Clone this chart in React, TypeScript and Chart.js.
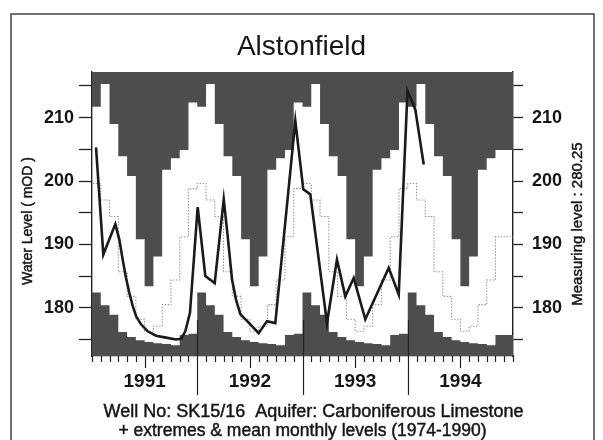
import React, { useEffect, useRef } from 'react';
import { Chart, registerables } from 'chart.js';

Chart.register(...registerables);

// ---- data ----
const TITLE = 'Alstonfield';
const Y_AXIS_TITLE = 'Water Level ( mOD )';
const Y2_AXIS_TITLE = 'Measuring level : 280.25';
const FOOTER_1 = 'Well No: SK15/16  Aquifer: Carboniferous Limestone';
const FOOTER_2 = '+ extremes & mean monthly levels (1974-1990)';

const YEAR_LABELS = ['1991', '1992', '1993', '1994'];
const N_MONTHS = 48; // Jan 1991 .. Dec 1994

// long-term (1974-1990) monthly statistics, Jan..Dec
const MONTH_MAX = [212.4, 211.7, 215.3, 209.0, 203.9, 200.8, 190.8, 183.4, 188.1, 201.8, 203.6, 204.9];
const MONTH_MEAN = [198.8, 199.6, 197.0, 194.4, 185.7, 181.8, 178.2, 176.3, 177.1, 180.5, 184.4, 191.2];
const MONTH_MIN = [175.9, 182.4, 180.4, 178.9, 176.2, 175.4, 174.9, 174.6, 174.4, 174.3, 174.1, 175.7];

// observed levels: time in months since 1 Jan 1991
const OBS_MONTH = [
  0.46, 1.29, 2.66, 3.11, 3.5, 3.88, 4.25, 4.64, 5.02, 5.59, 6.35, 7.3, 8.44, 9.58, 10.15, 10.64, 11.17,
  12.05, 12.92, 13.99, 15.02, 15.51, 15.96, 16.42, 16.91, 18.05, 19.0, 19.95, 20.9,
  23.18, 24.09, 24.89, 26.79, 27.93, 28.88, 29.84, 31.16, 33.83, 34.97,
  35.97, 36.86, 37.82,
];
const OBS_LEVEL = [
  205.3, 188.4, 193.2, 190.8, 187.6, 184.7, 182.4, 180.3, 178.7, 177.4, 176.3, 175.6, 175.3, 175.0, 175.1, 176.3, 179.2,
  195.9, 185.0, 183.9, 197.1, 190.8, 184.5, 181.3, 179.0, 177.4, 176.0, 177.9, 177.6,
  209.5, 198.7, 197.9, 177.6, 187.6, 181.8, 184.7, 178.2, 186.3, 182.1,
  214.2, 211.3, 202.6,
];

const Y_TICKS = [175, 180, 185, 190, 195, 200, 205, 210, 215];
const Y_MIN = 172.4;
const Y_MAX = 217.2;

// ---- styles ----
const FONT = "'Liberation Sans', Arial, Helvetica, sans-serif";
const INK = '#151515';
const SHADE = '#4d4d4d';

function monthlySteps(values: number[]) {
  const pts: { x: number; y: number }[] = [];
  for (let k = 0; k < N_MONTHS; k++) pts.push({ x: k, y: values[k % 12] });
  pts.push({ x: N_MONTHS, y: values[(N_MONTHS - 1) % 12] });
  return pts;
}

function heavyText(ctx: CanvasRenderingContext2D, text: string, x: number, y: number) {
  ctx.fillText(text, x, y);
  ctx.strokeText(text, x, y);
}

const decorPlugin = {
  id: 'decor',
  beforeDraw(chart: any) {
    const { ctx } = chart;
    ctx.save();
    ctx.fillStyle = '#ffffff';
    ctx.fillRect(0, 0, chart.width, chart.height);
    ctx.restore();
  },
  afterDraw(chart: any) {
    const { ctx, chartArea } = chart;
    const xs = chart.scales.x;
    ctx.save();
    // month / year tick marks along the time axis
    ctx.strokeStyle = '#222';
    ctx.lineWidth = 1.2;
    for (let k = 0; k <= N_MONTHS; k++) {
      const px = Math.round(xs.getPixelForValue(k)) + 0.5;
      let top = chartArea.bottom;
      let bot = chartArea.bottom + 6;
      if (k % 12 === 0 && k > 0 && k < N_MONTHS) {
        top = chartArea.bottom - 36;
        bot = chartArea.bottom + 39;
      } else if (k % 12 === 6) {
        bot = chartArea.bottom + 12;
      }
      ctx.beginPath();
      ctx.moveTo(px, top);
      ctx.lineTo(px, bot);
      ctx.stroke();
    }
    // outer frame
    ctx.strokeStyle = '#444';
    ctx.lineWidth = 1.5;
    ctx.strokeRect(11, 14, 583, 470);

    ctx.fillStyle = INK;
    ctx.strokeStyle = INK;
    ctx.lineWidth = 0.45;
    ctx.textAlign = 'center';
    ctx.textBaseline = 'middle';
    // axis titles (both read bottom-to-top)
    ctx.save();
    ctx.translate(28, 221);
    ctx.rotate(-Math.PI / 2);
    ctx.font = `14px ${FONT}`;
    heavyText(ctx, Y_AXIS_TITLE, 0, 0);
    ctx.restore();
    ctx.save();
    ctx.translate(577.5, 224);
    ctx.rotate(-Math.PI / 2);
    ctx.font = `15px ${FONT}`;
    heavyText(ctx, Y2_AXIS_TITLE, 0, 0);
    ctx.restore();
    // footer
    ctx.font = `18px ${FONT}`;
    heavyText(ctx, FOOTER_1, 313.5, 412);
    ctx.font = `17.5px ${FONT}`;
    heavyText(ctx, FOOTER_2, 302.5, 431);
    ctx.restore();
  },
};

function yAxis(position: 'left' | 'right', width: number, tickLength: number, padding: number) {
  return {
    type: 'linear' as const,
    position,
    min: Y_MIN,
    max: Y_MAX,
    afterBuildTicks: (scale: any) => {
      scale.ticks = Y_TICKS.map((v) => ({ value: v }));
    },
    afterFit: (scale: any) => {
      scale.width = width;
    },
    ticks: {
      callback: (v: any) => (Number(v) % 10 === 0 ? String(v) : ''),
      font: { family: FONT, size: 18, weight: 'bold' },
      color: INK,
      padding,
    },
    grid: {
      drawOnChartArea: false,
      drawTicks: true,
      tickLength,
      tickColor: '#222',
      tickWidth: 1.3,
    },
    border: { display: true, color: '#222', width: 1.4 },
  };
}

export default function App() {
  const ref = useRef<HTMLCanvasElement>(null);

  useEffect(() => {
    if (!ref.current) return;
    const chart = new Chart(ref.current, {
      type: 'line',
      data: {
        datasets: [
          {
            label: 'Water level',
            data: OBS_MONTH.map((m, i) => ({ x: m, y: OBS_LEVEL[i] })),
            borderColor: '#1a1a1a',
            borderWidth: 2.6,
            pointRadius: 0,
            fill: false,
            tension: 0,
            order: 0,
          },
          {
            label: 'Mean',
            data: monthlySteps(MONTH_MEAN),
            stepped: 'after',
            borderColor: '#999999',
            borderWidth: 1.1,
            borderDash: [1.5, 1.5],
            pointRadius: 0,
            fill: false,
            order: 1,
          },
          {
            label: 'Maximum',
            data: monthlySteps(MONTH_MAX),
            stepped: 'after',
            borderColor: SHADE,
            borderWidth: 0,
            backgroundColor: SHADE,
            pointRadius: 0,
            fill: 'end',
            order: 2,
          },
          {
            label: 'Minimum',
            data: monthlySteps(MONTH_MIN),
            stepped: 'after',
            borderColor: SHADE,
            borderWidth: 0,
            backgroundColor: SHADE,
            pointRadius: 0,
            fill: 'start',
            order: 3,
          },
        ] as any,
      },
      options: {
        responsive: false,
        animation: false,
        devicePixelRatio: 1,
        layout: { padding: 0 },
        plugins: {
          legend: { display: false },
          tooltip: { enabled: false },
          title: {
            display: true,
            text: TITLE,
            color: INK,
            font: { family: FONT, size: 28, weight: 'normal', lineHeight: 1.2 },
            padding: { top: 30.7, bottom: 7.7 },
          },
        },
        scales: {
          x: {
            type: 'linear',
            min: 0,
            max: N_MONTHS,
            afterBuildTicks: (scale: any) => {
              scale.ticks = YEAR_LABELS.map((_, i) => ({ value: 6 + 12 * i }));
            },
            afterFit: (scale: any) => {
              scale.height = 84;
            },
            ticks: {
              callback: (_v: any, i: number) => YEAR_LABELS[i],
              font: { family: FONT, size: 19, weight: 'bold' },
              color: INK,
              padding: 14.6,
              autoSkip: false,
              maxRotation: 0,
            },
            grid: { display: false, drawTicks: false },
            border: { display: true, color: '#222', width: 1.2 },
          },
          y: yAxis('left', 92, 13, 5),
          y2: yAxis('right', 90, 10, 9),
        },
      } as any,
      plugins: [decorPlugin],
    });
    return () => chart.destroy();
  }, []);

  return (
    <div style={{ position: 'absolute', left: 0, top: 0, width: 603, height: 440, background: '#fff' }}>
      <canvas ref={ref} width={603} height={440} style={{ display: 'block', width: 603, height: 440 }} />
    </div>
  );
}
